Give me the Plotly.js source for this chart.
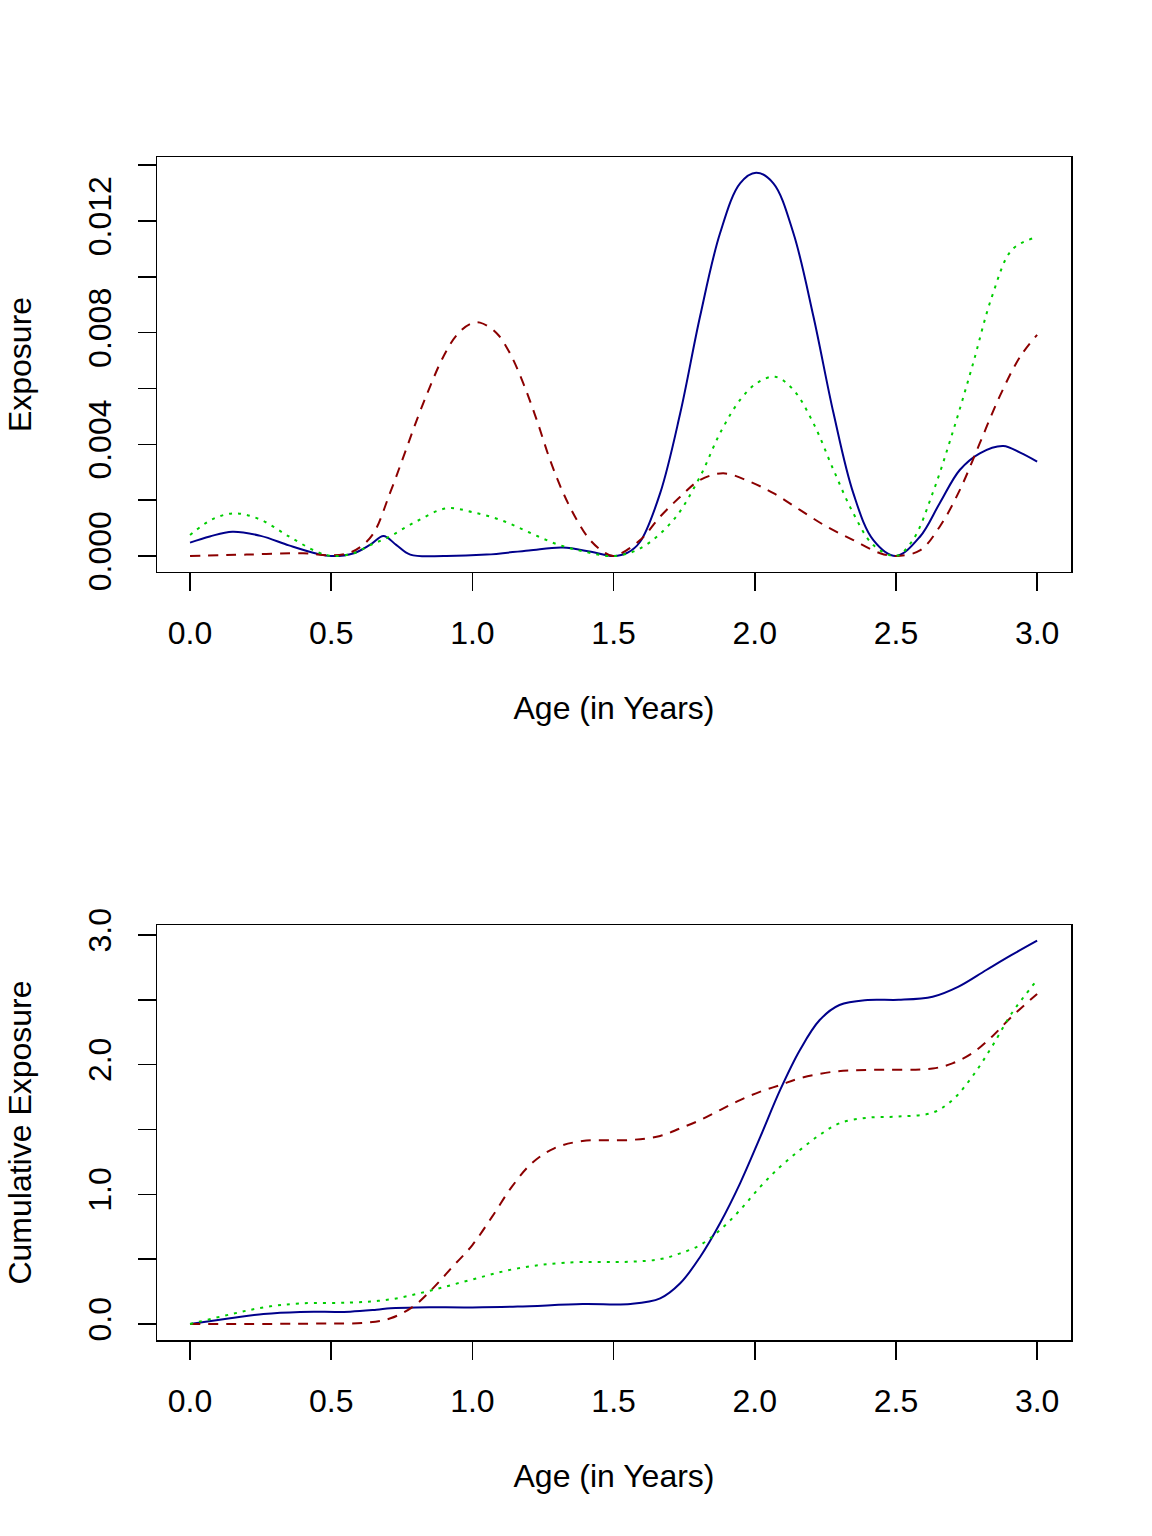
<!DOCTYPE html>
<html>
<head>
<meta charset="utf-8">
<script src="https://cdn.plot.ly/plotly-3.0.1.min.js"></script>
<style>
  body { margin: 0; background: #fff; }
  #myDiv { width: 1152px; height: 1536px; }
</style>
</head>
<body>
<div id="myDiv"></div>
<script>
// exposure by age
var blueX = [0, 0.07, 0.15, 0.25, 0.35, 0.45, 0.5, 0.58, 0.64, 0.685, 0.73, 0.78, 0.9, 1.05, 1.2, 1.32, 1.42, 1.5,
  1.55, 1.594, 1.665, 1.736, 1.806, 1.877, 1.948, 2.005, 2.066, 2.137, 2.208, 2.279, 2.349, 2.42, 2.5,
  2.585, 2.655, 2.726, 2.797, 2.88, 2.94, 3.0];
var blueY = [0.00048, 0.0007, 0.00087, 0.00072, 0.00038, 0.00008, 0.0, 0.0001, 0.00042, 0.00072, 0.0004, 0.00005, 0.0, 0.00005, 0.0002, 0.0003, 0.00015, 0.0,
  0.00012, 0.00051, 0.00225, 0.00511, 0.00857, 0.01156, 0.01335, 0.01373, 0.01335, 0.01156, 0.00857, 0.00511, 0.00225, 0.00057, 0.0,
  0.00069, 0.00189, 0.00308, 0.00368, 0.00394, 0.0037, 0.00338];

var redX = [0, 0.2, 0.4, 0.5, 0.56, 0.6, 0.649, 0.708, 0.756, 0.803, 0.85, 0.897, 0.945, 0.992, 1.027, 1.086, 1.133, 1.18, 1.228, 1.275,
  1.322, 1.37, 1.417, 1.464, 1.5,
  1.594, 1.665, 1.736, 1.806, 1.889, 1.983, 2.066, 2.16, 2.255, 2.349, 2.444, 2.5,
  2.585, 2.655, 2.726, 2.797, 2.867, 2.94, 3.0];
var redY = [0, 0.00005, 0.0001, 0.00002, 0.0001, 0.0003, 0.0008, 0.00225, 0.00356, 0.00487, 0.00607, 0.00714, 0.00792, 0.00831, 0.00836, 0.00798, 0.00726, 0.00619, 0.00487, 0.00344,
  0.00225, 0.00129, 0.00057, 0.00015, 0.0,
  0.00057, 0.00141, 0.00212, 0.00272, 0.00296, 0.00266, 0.00225, 0.00165, 0.00105, 0.00057, 0.0001, 0.0,
  0.0002, 0.00105, 0.00236, 0.00404, 0.00571, 0.00714, 0.00792];

var greenX = [0, 0.08, 0.16, 0.25, 0.35, 0.45, 0.5, 0.58, 0.64, 0.7, 0.8, 0.909, 1.0, 1.1, 1.2, 1.3, 1.4, 1.5,
  1.594, 1.712, 1.806, 1.877, 1.948, 2.007, 2.072, 2.137, 2.208, 2.279, 2.349, 2.42, 2.5,
  2.56, 2.63, 2.70, 2.77, 2.84, 2.91, 2.985];
var greenY = [0.00075, 0.00132, 0.00153, 0.0013, 0.0007, 0.00015, 0.0, 0.0001, 0.0004, 0.00066, 0.00123, 0.00171, 0.00157, 0.00129, 0.00085, 0.00042, 0.00015, 0.0,
  0.00027, 0.00129, 0.00284, 0.0044, 0.00559, 0.00619, 0.00642, 0.00595, 0.00475, 0.00308, 0.00153, 0.00039, 0.0,
  0.00057, 0.00225, 0.0044, 0.00678, 0.00929, 0.01096, 0.01138];

// cumulative exposure
var cumBlueX = [0, 0.142, 0.26, 0.39, 0.567, 0.66, 0.71, 0.8, 1.0, 1.16, 1.39, 1.56, 1.665, 1.736, 1.807, 1.877, 1.948,
  2.02, 2.09, 2.16, 2.23, 2.30, 2.40, 2.51, 2.63, 2.72, 2.82, 2.91, 3.0];
var cumBlueY = [0, 0.044, 0.077, 0.093, 0.095, 0.11, 0.121, 0.128, 0.128, 0.134, 0.154, 0.155, 0.198, 0.314, 0.519, 0.777, 1.085,
  1.445, 1.805, 2.113, 2.344, 2.46, 2.499, 2.50, 2.524, 2.60, 2.73, 2.846, 2.956];

var cumRedX = [0, 0.45, 0.626, 0.71, 0.79, 0.86, 0.93, 1.0, 1.07, 1.14, 1.21, 1.29, 1.39, 1.56, 1.665, 1.736, 1.807, 1.877, 1.948,
  2.02, 2.09, 2.16, 2.28, 2.40, 2.63, 2.70, 2.77, 2.84, 2.91, 3.0];
var cumRedY = [0, 0.003, 0.01, 0.044, 0.134, 0.275, 0.442, 0.609, 0.828, 1.059, 1.239, 1.355, 1.411, 1.419, 1.45, 1.509, 1.573, 1.65, 1.727,
  1.792, 1.843, 1.895, 1.946, 1.959, 1.97, 2.01, 2.088, 2.216, 2.37, 2.545];

var cumGreenX = [0, 0.142, 0.26, 0.39, 0.567, 0.71, 0.85, 1.0, 1.16, 1.33, 1.56, 1.665, 1.736, 1.807, 1.877, 1.948,
  2.02, 2.09, 2.16, 2.23, 2.30, 2.40, 2.51, 2.63, 2.70, 2.77, 2.84, 2.91, 3.0];
var cumGreenY = [0, 0.074, 0.128, 0.159, 0.165, 0.19, 0.257, 0.344, 0.429, 0.473, 0.48, 0.5, 0.545, 0.609, 0.725, 0.879,
  1.059, 1.213, 1.342, 1.458, 1.548, 1.591, 1.60, 1.63, 1.727, 1.907, 2.139, 2.396, 2.653];

var ageTicks = [0, 0.5, 1.0, 1.5, 2.0, 2.5, 3.0];
var ageLabels = ['0.0', '0.5', '1.0', '1.5', '2.0', '2.5', '3.0'];
var expTicks = [0, 0.002, 0.004, 0.006, 0.008, 0.010, 0.012, 0.014];
var expLabels = ['0.000', '', '0.004', '', '0.008', '', '0.012', ''];
var cumTicks = [0, 0.5, 1.0, 1.5, 2.0, 2.5, 3.0];
var cumLabels = ['0.0', '', '1.0', '', '2.0', '', '3.0'];

var BLUE = '#00008B', RED = '#8B0000', GREEN = '#00CD00';

function curve(x, y, color, dash, xa, ya) {
  return {
    x: x, y: y, xaxis: xa, yaxis: ya,
    mode: 'lines',
    line: {color: color, width: 2, dash: dash, shape: 'spline', smoothing: 1},
    hoverinfo: 'skip'
  };
}

var data = [
  curve(blueX, blueY, BLUE, 'solid', 'x', 'y'),
  curve(redX, redY, RED, '10px,8px', 'x', 'y'),
  curve(greenX, greenY, GREEN, '3px,6px', 'x', 'y'),
  curve(cumBlueX, cumBlueY, BLUE, 'solid', 'x2', 'y2'),
  curve(cumRedX, cumRedY, RED, '10px,8px', 'x2', 'y2'),
  curve(cumGreenX, cumGreenY, GREEN, '3px,6px', 'x2', 'y2')
];

var font = {family: 'Liberation Sans, Arial, sans-serif', size: 32, color: '#000'};

function xAxis(anchor) {
  return {
    anchor: anchor, domain: [0, 1],
    range: [-0.117, 3.12],
    tickmode: 'array', tickvals: ageTicks, ticktext: ageLabels,
    ticks: 'outside', ticklen: 18, tickwidth: 1.5, tickcolor: '#000',
    ticklabelstandoff: 14,
    showline: true, mirror: true, linecolor: '#000', linewidth: 1.5,
    showgrid: false, zeroline: false,
    tickfont: font,
    title: {text: 'Age (in Years)', font: font, standoff: 46}
  };
}

function yAxis(anchor, domain, range, vals, labels, title) {
  return {
    anchor: anchor, domain: domain, range: range,
    tickmode: 'array', tickvals: vals, ticktext: labels,
    tickangle: -90,
    ticks: 'outside', ticklen: 18, tickwidth: 1.5, tickcolor: '#000',
    ticklabelstandoff: 14,
    showline: true, mirror: true, linecolor: '#000', linewidth: 1.5,
    showgrid: false, zeroline: false,
    tickfont: font,
    title: {text: title, font: font, standoff: 40}
  };
}

var layout = {
  width: 1152, height: 1536,
  margin: {l: 157, r: 81, t: 157, b: 196},
  paper_bgcolor: '#fff', plot_bgcolor: '#fff',
  showlegend: false,
  font: font,
  xaxis: xAxis('y'),
  yaxis: yAxis('x', [0.6492, 1], [-0.000573, 0.014292], expTicks, expLabels, 'Exposure'),
  xaxis2: xAxis('y2'),
  yaxis2: yAxis('x2', [0, 0.3508], [-0.1234, 3.077], cumTicks, cumLabels, 'Cumulative Exposure')
};

Plotly.newPlot('myDiv', data, layout, {staticPlot: true});
</script>
</body>
</html>
